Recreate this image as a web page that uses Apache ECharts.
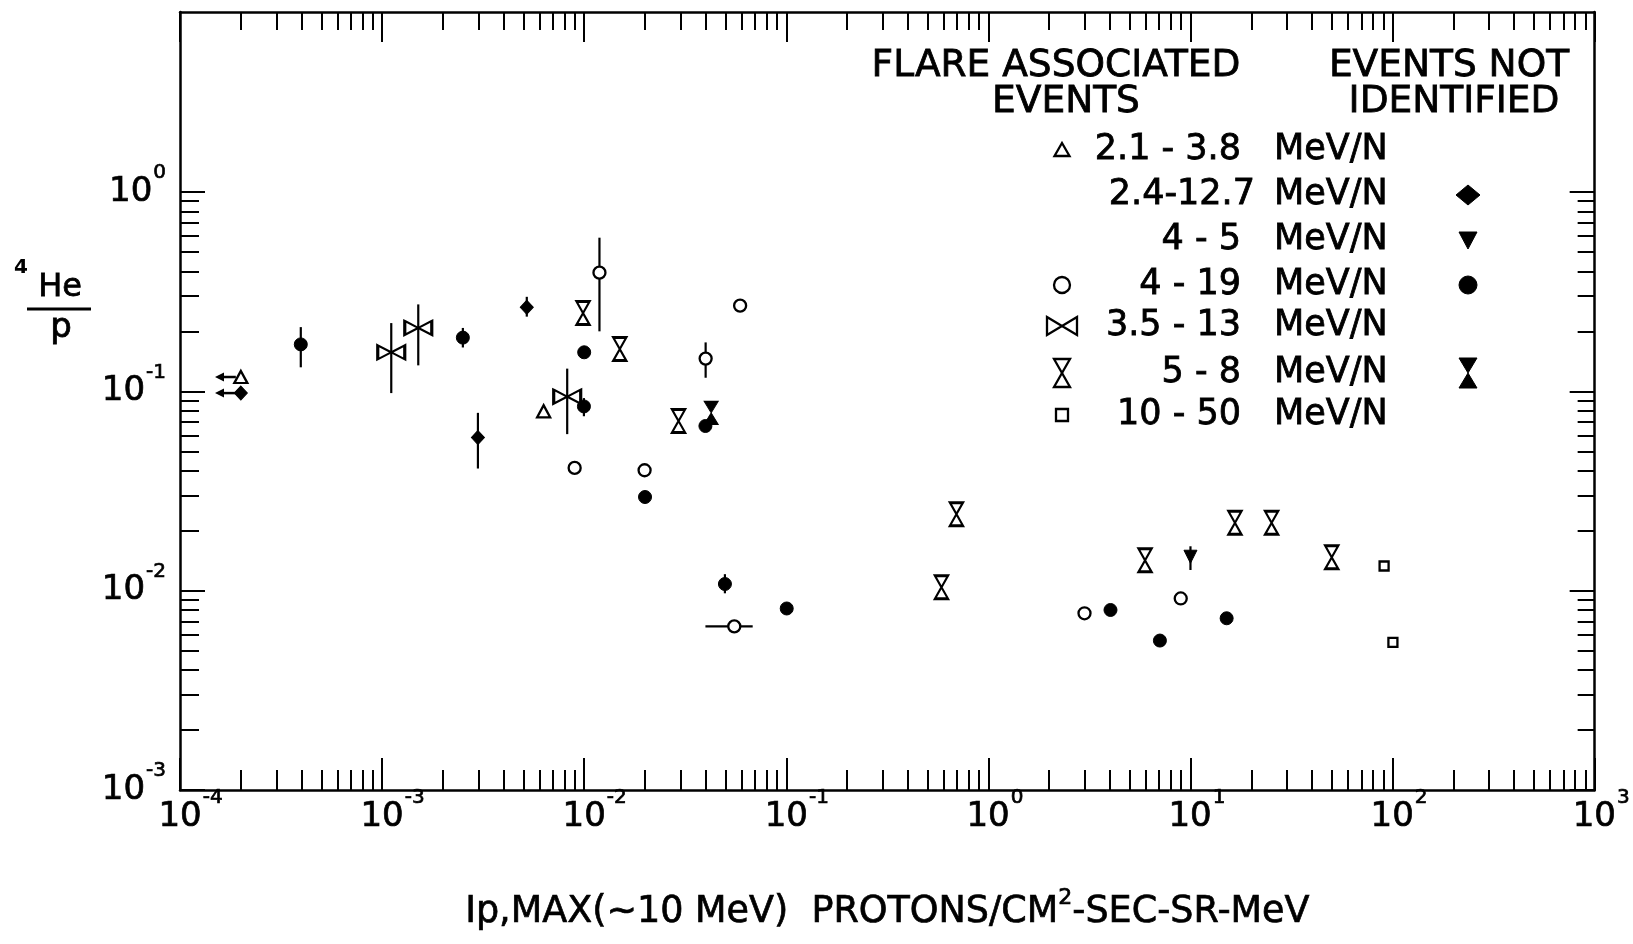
<!DOCTYPE html>
<html><head><meta charset="utf-8">
<script src="https://cdn.jsdelivr.net/npm/echarts@6/dist/echarts.min.js"></script>
<style>html,body{margin:0;padding:0;background:#fff}#c{width:1633px;height:944px}</style>
</head><body><div id="c"></div>
<script>
// ---------- data (x = Ip,MAX ; y = 4He/p) ----------
const triOpen     = [[2.0e-4, 0.118], [6.3e-3, 0.0794]];
const circOpen    = [[0.0119, 0.394], [8.97e-3, 0.0413], [0.0199, 0.0402], [0.0399, 0.146],
                     [0.0591, 0.269], [0.0553, 0.00662], [2.99, 0.0077], [8.95, 0.00914]];
const bowOpen     = [[1.11e-3, 0.157], [1.51e-3, 0.208], [8.24e-3, 0.094]];
const hourOpen    = [[9.87e-3, 0.247], [0.0150, 0.163], [0.0293, 0.071], [0.695, 0.0242], [0.586, 0.0104],
                     [5.96, 0.0142], [16.6, 0.0219], [25.2, 0.0219], [50, 0.0147]];
const squareOpen  = [[90.8, 0.0133], [100.4, 0.0055]];
const diamondFill = [[2.0e-4, 0.098], [2.98e-3, 0.0586], [5.2e-3, 0.264]];
const triDownFill = [[10.0, 0.0148]];
const circFill    = [[3.96e-4, 0.172], [2.51e-3, 0.186], [0.0100, 0.157], [0.00997, 0.084], [0.0200, 0.0295],
                     [0.0398, 0.067], [0.0497, 0.0108], [0.1005, 0.00814], [4.02, 0.0080], [7.06, 0.00562], [15.1, 0.00727]];
const hourFill    = [[0.0425, 0.078]];
// vertical error bars [x, low, high]
const vErr = [[3.96e-4, 0.132, 0.21], [1.11e-3, 0.098, 0.22], [1.51e-3, 0.135, 0.273], [2.51e-3, 0.166, 0.208],
              [2.98e-3, 0.041, 0.078], [5.2e-3, 0.237, 0.298], [0.0119, 0.20, 0.59], [8.24e-3, 0.061, 0.13],
              [0.00997, 0.075, 0.0925], [0.0399, 0.117, 0.176], [0.0497, 0.0097, 0.0121], [10.0, 0.0127, 0.0167]];
// horizontal error bars [xlow, xhigh, y]
const hErr = [[0.0398, 0.0682, 0.00662]];
// upper-limit arrows [x, y, xTip]
const arrows = [[2.0e-4, 0.118, 1.49e-4], [2.0e-4, 0.098, 1.49e-4]];

// ---------- ticks / labels ----------
const xMajor = [1e-4, 1e-3, 1e-2, 1e-1, 1, 10, 100, 1000];
const yMajor = [1e-3, 1e-2, 1e-1, 1];
const minorMult = [2, 3, 4, 5, 6, 7, 8, 9];
function minorsOf(majors) {
  const out = [];
  for (let i = 0; i < majors.length - 1; i++) for (const m of minorMult) out.push(+(majors[i] * m).toPrecision(3));
  return out;
}
const xMinor = minorsOf(xMajor), yMinor = minorsOf(yMajor);

const legendHead = ['FLARE ASSOCIATED', 'EVENTS', 'EVENTS NOT', 'IDENTIFIED'];
const legendRanges = ['2.1 - 3.8', '2.4-12.7', '4 - 5', '4 - 19', '3.5 - 13', '5 - 8', '10 - 50'];
const legendUnit = 'MeV/N';
const xTitleA = 'Ip,MAX(~10 MeV)  PROTONS/CM', xTitleSup = '2', xTitleB = '-SEC-SR-MeV';

// ---------- styling ----------
const FONT = 'DejaVu Sans';
const K = '#000';
const HOUR = 'path://M0,0L10,0L5,10ZM5,10L10,20L0,20Z';
const BOW = 'path://M0,0L10,5L0,10ZM20,0L10,5L20,10Z';
const thick = { textBorderColor: K, textBorderWidth: 0.7 };

function expOf(v) { return Math.round(Math.log10(v)); }
const baseTok = Object.assign({ fontSize: 34, fontFamily: FONT, color: K, lineHeight: 36, verticalAlign: 'middle' }, thick);
const expTok = Object.assign({ fontSize: 20, fontFamily: FONT, color: K, lineHeight: 18, verticalAlign: 'middle', padding: [0, 0, 38, 1] }, thick);
const richX = { p1: { width: 13 }, p2: { width: 21 }, b: baseTok, e: expTok };

function xAx(pos, ticks, len, showLine, showLabel) {
  return {
    type: 'log', logBase: 10, min: 1e-4, max: 1e3, position: pos,
    axisLine: { show: showLine, onZero: false, lineStyle: { color: K, width: 2.5 } },
    axisTick: { show: true, inside: true, length: len, customValues: ticks, lineStyle: { color: K, width: 2 } },
    axisLabel: showLabel ? {
      customValues: xMajor, margin: 9,
      formatter: v => { const e = String(expOf(v)); return '{p' + e.length + '|}{b|10}{e|' + e + '}'; },
      rich: richX
    } : { show: false },
    splitLine: { show: false }, minorTick: { show: false }, minorSplitLine: { show: false },
    name: showLabel ? '{t|' + xTitleA + '}{s|' + xTitleSup + '}{t|' + xTitleB + '}' : '',
    nameLocation: 'middle', nameGap: 104,
    nameTextStyle: {
      rich: {
        t: Object.assign({ fontSize: 36.5, fontFamily: FONT, color: K, lineHeight: 38, verticalAlign: 'middle' }, thick),
        s: Object.assign({ fontSize: 22, fontFamily: FONT, color: K, lineHeight: 20, verticalAlign: 'middle', padding: [0, 0, 30, 0] }, thick)
      }
    }
  };
}
function yAx(pos, ticks, len, showLine, showLabel) {
  return {
    type: 'log', logBase: 10, min: 1e-3, max: 8.0, position: pos,
    axisLine: { show: showLine, onZero: false, lineStyle: { color: K, width: 2.5 } },
    axisTick: { show: true, inside: true, length: len, customValues: ticks, lineStyle: { color: K, width: 2 } },
    axisLabel: showLabel ? {
      customValues: yMajor, margin: 14,
      formatter: v => '{b|10}{e|' + expOf(v) + '}',
      rich: { b: baseTok, e: expTok }
    } : { show: false },
    splitLine: { show: false }, minorTick: { show: false }, minorSplitLine: { show: false }
  };
}

const open = { color: '#fff', borderColor: K, borderWidth: 2.3, opacity: 1 };
const fill = { color: K, borderColor: K, borderWidth: 1, opacity: 1 };
function sc(name, data, symbol, size, style, extra) {
  return Object.assign({ type: 'scatter', name, data, symbol, symbolSize: size, itemStyle: style,
    z: 5, silent: true, animation: false, xAxisIndex: 0, yAxisIndex: 0 }, extra || {});
}

// ---------- legend graphics ----------
const rowY = [150, 195, 240, 285, 326, 373, 415];
const symL = 1062, txtR = 1241, unitL = 1274, symR = 1468;
function shape(kind, cx, cy) {
  const so = { fill: '#fff', stroke: K, lineWidth: 2.3 }, sf = { fill: K, stroke: K, lineWidth: 1 };
  switch (kind) {
    case 'tri': return { type: 'polygon', shape: { points: [[cx, cy - 7], [cx + 7.5, cy + 6], [cx - 7.5, cy + 6]] }, style: so };
    case 'circ': return { type: 'circle', shape: { cx, cy, r: 8 }, style: so };
    case 'bow': return { type: 'polygon', shape: { points: [[cx - 15, cy - 9], [cx, cy], [cx - 15, cy + 9]] }, style: so };
    case 'bow2': return { type: 'polygon', shape: { points: [[cx + 15, cy - 9], [cx, cy], [cx + 15, cy + 9]] }, style: so };
    case 'hourT': return { type: 'polygon', shape: { points: [[cx - 8, cy - 14], [cx + 8, cy - 14], [cx, cy]] }, style: so };
    case 'hourB': return { type: 'polygon', shape: { points: [[cx, cy], [cx + 8, cy + 14], [cx - 8, cy + 14]] }, style: so };
    case 'sq': return { type: 'rect', shape: { x: cx - 6, y: cy - 6, width: 12, height: 12 }, style: so };
    case 'dia': return { type: 'polygon', shape: { points: [[cx, cy - 10], [cx + 12, cy], [cx, cy + 10], [cx - 12, cy]] }, style: sf };
    case 'tdn': return { type: 'polygon', shape: { points: [[cx - 9, cy - 8], [cx + 9, cy - 8], [cx, cy + 9]] }, style: sf };
    case 'circF': return { type: 'circle', shape: { cx, cy, r: 9 }, style: sf };
    case 'hourFT': return { type: 'polygon', shape: { points: [[cx - 9, cy - 15], [cx + 9, cy - 15], [cx, cy]] }, style: sf };
    case 'hourFB': return { type: 'polygon', shape: { points: [[cx, cy], [cx + 9, cy + 15], [cx - 9, cy + 15]] }, style: sf };
  }
}
function txt(text, x, y, size, align) {
  return { type: 'text', x, y, silent: true,
    style: { text, fontSize: size, fontFamily: FONT, fill: K, stroke: K, lineWidth: 0.8,
             align: align || 'center', verticalAlign: 'middle' } };
}
const g = [];
g.push(txt(legendHead[0], 1056, 66, 37.5), txt(legendHead[1], 1066, 102, 37.5),
       txt(legendHead[2], 1449, 66, 37.5), txt(legendHead[3], 1454, 102, 37.5));
legendRanges.forEach((r, i) => {
  g.push(txt(r, txtR + (i === 1 ? 14 : 0), rowY[i], 35, 'right'));
  g.push(txt(legendUnit, unitL, rowY[i], 35, 'left'));
});
g.push(shape('tri', symL, rowY[0]));
g.push(shape('circ', symL, rowY[3]));
g.push(shape('bow', symL, rowY[4]), shape('bow2', symL, rowY[4]));
g.push(shape('hourT', symL, rowY[5]), shape('hourB', symL, rowY[5]));
g.push(shape('sq', symL, rowY[6]));
g.push(shape('dia', symR, rowY[1]));
g.push(shape('tdn', symR, rowY[2]));
g.push(shape('circF', symR, rowY[3]));
g.push(shape('hourFT', symR, rowY[5]), shape('hourFB', symR, rowY[5]));
// y-axis title: 4He / p
g.push({ type: 'text', x: 21, y: 268, silent: true, style: { text: '4', fontSize: 20, fontFamily: FONT, fontWeight: 'bold', fill: K, align: 'center', verticalAlign: 'middle' } });
g.push(txt('He', 60, 288, 32));
g.push({ type: 'line', silent: true, shape: { x1: 27, y1: 309, x2: 91, y2: 309 }, style: { stroke: K, lineWidth: 3 } });
g.push(txt('p', 61, 328, 34));

const chart = echarts.init(document.getElementById('c'), null, { renderer: 'canvas' });
chart.setOption({
  backgroundColor: '#fff',
  animation: false,
  grid: { left: 180, right: 38, top: 12, bottom: 139, containLabel: false },
  xAxis: [xAx('bottom', xMajor, 32, true, true), xAx('bottom', xMinor, 20, false, false),
          xAx('top', xMajor, 30, true, false), xAx('top', xMinor, 18, false, false)],
  yAxis: [yAx('left', yMajor, 25, true, true), yAx('left', yMinor, 19, false, false),
          yAx('right', yMajor, 25, true, false), yAx('right', yMinor, 17, false, false)],
  graphic: g,
  series: [
    { type: 'custom', name: 'vErr', data: vErr, encode: { x: 0, y: [1, 2] }, z: 3, silent: true,
      renderItem: (p, api) => {
        const a = api.coord([api.value(0), api.value(1)]), b = api.coord([api.value(0), api.value(2)]);
        return { type: 'line', shape: { x1: a[0], y1: a[1], x2: b[0], y2: b[1] }, style: { stroke: K, lineWidth: 2.2 } };
      } },
    { type: 'custom', name: 'hErr', data: hErr, encode: { x: [0, 1], y: 2 }, z: 3, silent: true,
      renderItem: (p, api) => {
        const a = api.coord([api.value(0), api.value(2)]), b = api.coord([api.value(1), api.value(2)]);
        return { type: 'line', shape: { x1: a[0], y1: a[1], x2: b[0], y2: b[1] }, style: { stroke: K, lineWidth: 2.2 } };
      } },
    { type: 'custom', name: 'arrows', data: arrows, encode: { x: [0, 2], y: 1 }, z: 3, silent: true,
      renderItem: (p, api) => {
        const a = api.coord([api.value(0), api.value(1)]), t = api.coord([api.value(2), api.value(1)]);
        return { type: 'group', children: [
          { type: 'line', shape: { x1: a[0] - 5, y1: a[1], x2: t[0] + 5, y2: t[1] }, style: { stroke: K, lineWidth: 2.5 } },
          { type: 'polygon', shape: { points: [[t[0], t[1]], [t[0] + 9, t[1] - 4.5], [t[0] + 9, t[1] + 4.5]] }, style: { fill: K } }
        ] };
      } },
    sc('2.1-3.8 flare', triOpen, 'triangle', [13, 12], open),
    sc('4-19 flare', circOpen, 'circle', 12, open),
    sc('3.5-13 flare', bowOpen, BOW, [27, 14], open),
    sc('5-8 flare', hourOpen, HOUR, [13, 23], open),
    sc('10-50 flare', squareOpen, 'rect', 9, open),
    sc('2.4-12.7 not id', diamondFill, 'diamond', [13, 14], fill),
    sc('4-5 not id', triDownFill, 'triangle', [13, 13], fill, { symbolRotate: 180 }),
    sc('4-19 not id', circFill, 'circle', 13, fill),
    sc('5-8 not id', hourFill, HOUR, [14, 23], fill)
  ]
});
</script>
</body></html>
